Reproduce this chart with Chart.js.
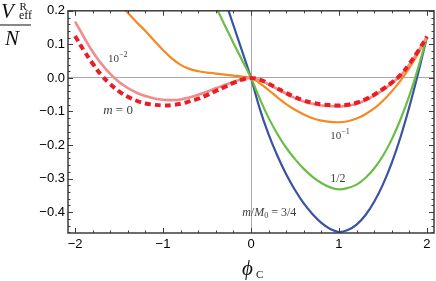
<!DOCTYPE html>
<html>
<head>
<meta charset="utf-8">
<script src="https://cdn.jsdelivr.net/npm/chart.js@4.4.1/dist/chart.umd.min.js"></script>
<style>
html, body { margin: 0; padding: 0; background: #fff; }
#wrap { width: 436px; height: 281px; position: relative; }
</style>
</head>
<body>
<div id="wrap"><canvas id="potChart"></canvas></div>
<script>
// values, V_eff^R / N against phi_c
const phiFull = [-2.0, -1.9, -1.8, -1.7, -1.6, -1.5, -1.4, -1.3, -1.2, -1.1, -1.0, -0.9, -0.8, -0.7, -0.6, -0.5, -0.4, -0.3, -0.2, -0.1,
  0, 0.1, 0.2, 0.3, 0.4, 0.5, 0.6, 0.7, 0.8, 0.9, 1.0, 1.1, 1.2, 1.3, 1.4, 1.5, 1.6, 1.7, 1.8, 1.9, 2.0];

// m = 0 (dashed)
const vM0 = [0.125, 0.082, 0.043, 0.008, -0.018, -0.040, -0.056, -0.068, -0.076, -0.080, -0.082, -0.081, -0.077, -0.070, -0.062, -0.051, -0.039, -0.027, -0.015, -0.005,
  0, -0.005, -0.017, -0.031, -0.045, -0.057, -0.067, -0.074, -0.079, -0.081, -0.082, -0.080, -0.074, -0.064, -0.050, -0.033, -0.014, 0.009, 0.042, 0.080, 0.123];

// m = 10^-2
const vM2 = [0.168, 0.122, 0.078, 0.042, 0.012, -0.012, -0.030, -0.044, -0.054, -0.061, -0.065, -0.066, -0.064, -0.058, -0.050, -0.041, -0.031, -0.021, -0.012, -0.004,
  0, -0.006, -0.019, -0.033, -0.047, -0.060, -0.070, -0.077, -0.082, -0.084, -0.085, -0.083, -0.077, -0.067, -0.053, -0.036, -0.016, 0.007, 0.040, 0.079, 0.123];

// m = 10^-1
const phiM1 = [-1.6, -1.5, -1.4, -1.3, -1.2, -1.1, -1.0, -0.9, -0.8, -0.7, -0.6, -0.5, -0.4, -0.3, -0.2, -0.1,
  0, 0.1, 0.2, 0.3, 0.4, 0.5, 0.6, 0.7, 0.8, 0.9, 1.0, 1.1, 1.2, 1.3, 1.4, 1.5, 1.6, 1.7, 1.8, 1.9, 2.0];
const vM1 = [0.258, 0.226, 0.194, 0.166, 0.140, 0.111, 0.083, 0.058, 0.039, 0.027, 0.020, 0.016, 0.013, 0.010, 0.007, 0.004,
  0, -0.016, -0.036, -0.058, -0.078, -0.095, -0.109, -0.120, -0.127, -0.131, -0.132, -0.129, -0.121, -0.108, -0.091, -0.068, -0.040, -0.008, 0.030, 0.073, 0.123];

// m = 1/2
const phiHalf = [-0.5, -0.4, -0.3, -0.2, -0.1, 0, 0.1, 0.2, 0.3, 0.4, 0.5, 0.6, 0.7, 0.8, 0.9, 1.0, 1.1, 1.2, 1.3, 1.4, 1.5, 1.6, 1.7, 1.8, 1.9, 2.0];
const vHalf = [0.265, 0.212, 0.158, 0.104, 0.052, 0, -0.062, -0.119, -0.167, -0.208, -0.242, -0.271, -0.295, -0.313, -0.326, -0.332,
  -0.328, -0.318, -0.298, -0.270, -0.232, -0.183, -0.123, -0.053, 0.030, 0.123];

// m/M0 = 3/4
const phiQ = [-0.4, -0.3, -0.2, -0.1, 0, 0.1, 0.2, 0.3, 0.4, 0.5, 0.6, 0.7, 0.8, 0.9, 1.0, 1.1, 1.2, 1.3, 1.4, 1.5, 1.6, 1.7, 1.8, 1.9, 2.0];
const vQ = [0.31, 0.235, 0.157, 0.079, 0, -0.092, -0.168, -0.232, -0.287, -0.334, -0.374, -0.406, -0.432, -0.450, -0.459,
  -0.453, -0.437, -0.409, -0.369, -0.317, -0.253, -0.176, -0.086, 0.014, 0.123];

const xTicks = [-2, -1, 0, 1, 2];
const yTicks = [-0.4, -0.3, -0.2, -0.1, 0.0, 0.1, 0.2];

const SERIF = '"Liberation Serif", "DejaVu Serif", serif';
const SANS = '"Liberation Sans", Arial, sans-serif';

function pts(xs, ys) {
  return xs.map((x, i) => ({ x: x, y: ys[i] }));
}

function fmt(v, dec) {
  const s = Math.abs(v).toFixed(dec);
  return (v < -1e-9 ? '\u2212' : '') + s;
}

// frame with inward ticks on all four sides
const frameTicks = {
  id: 'frameTicks',
  afterDatasetsDraw(chart) {
    const { ctx, chartArea: a, scales } = chart;
    const sx = scales.x, sy = scales.y;
    ctx.save();
    ctx.strokeStyle = '#3c3c3c';
    ctx.lineWidth = 1;
    ctx.beginPath();
    for (let k = -10; k <= 10; k++) {
      const v = k / 5;
      if (v < sx.min || v > sx.max) continue;
      const px = Math.round(sx.getPixelForValue(v)) + 0.5;
      const len = (k % 5 === 0) ? 5 : 2.5;
      ctx.moveTo(px, a.bottom); ctx.lineTo(px, a.bottom - len);
      ctx.moveTo(px, a.top); ctx.lineTo(px, a.top + len);
    }
    for (let k = -25; k <= 10; k++) {
      const v = k / 50;
      if (v < sy.min || v > sy.max) continue;
      const py = Math.round(sy.getPixelForValue(v)) + 0.5;
      const len = (k % 5 === 0) ? 5 : 2.5;
      ctx.moveTo(a.left, py); ctx.lineTo(a.left + len, py);
      ctx.moveTo(a.right, py); ctx.lineTo(a.right - len, py);
    }
    ctx.stroke();
    ctx.lineWidth = 1.5;
    ctx.strokeRect(a.left, a.top, a.right - a.left, a.bottom - a.top);
    ctx.restore();
  }
};

// curve names and axis titles
const curveNotes = [
  { x: -1.625, y: 0.046, parts: [{ t: '10', f: '11px ' + SERIF }, { t: '\u22122', f: '8px ' + SERIF, dy: -5 }] },
  { x: -1.68, y: -0.107, parts: [{ t: 'm', f: 'italic 13px ' + SERIF }, { t: ' = 0', f: '13px ' + SERIF }] },
  { x: 0.90, y: -0.181, parts: [{ t: '10', f: '11px ' + SERIF }, { t: '\u22121', f: '8px ' + SERIF, dy: -5 }] },
  { x: 0.90, y: -0.309, parts: [{ t: '1/2', f: '12px ' + SERIF }] },
  { x: -0.10, y: -0.412, parts: [{ t: 'm', f: 'italic 12px ' + SERIF }, { t: '/', f: '12px ' + SERIF },
    { t: 'M', f: 'italic 12px ' + SERIF }, { t: '0', f: '8px ' + SERIF, dy: 2 }, { t: ' = 3/4', f: '12px ' + SERIF }] }
];

function drawParts(ctx, x, y, parts) {
  let cx = x;
  parts.forEach(p => {
    ctx.font = p.f;
    ctx.fillText(p.t, cx, y + (p.dy || 0));
    cx += ctx.measureText(p.t).width;
  });
}

const textPlugin = {
  id: 'textPlugin',
  afterDraw(chart) {
    const { ctx, scales } = chart;
    ctx.save();
    ctx.textBaseline = 'alphabetic';
    ctx.textAlign = 'left';
    ctx.fillStyle = '#404040';
    curveNotes.forEach(n => {
      drawParts(ctx, scales.x.getPixelForValue(n.x), scales.y.getPixelForValue(n.y), n.parts);
    });
    // y axis title: V_eff^R / N
    ctx.fillStyle = '#111';
    ctx.font = 'italic 21px ' + SERIF;
    ctx.fillText('V', 1, 18);
    ctx.font = '11px ' + SERIF;
    ctx.fillText('R', 19.5, 10);
    ctx.font = '12px ' + SERIF;
    ctx.fillText('eff', 19, 19);
    ctx.fillRect(0, 24.5, 31, 1);
    ctx.font = 'italic 21px ' + SERIF;
    ctx.fillText('N', 5, 45);
    // x axis title: phi_C
    ctx.font = 'italic 21px ' + SERIF;
    ctx.fillText('\u03d5', 242, 275);
    ctx.font = '11px ' + SERIF;
    ctx.fillText('C', 256, 278);
    ctx.restore();
  }
};

const lineBase = { pointRadius: 0, fill: false, tension: 0.4, clip: 0 };

new Chart(document.getElementById('potChart'), {
  type: 'line',
  data: {
    datasets: [
      Object.assign({ label: 'm = 0', data: pts(phiFull, vM0), borderColor: '#ec1c24', borderWidth: 4, borderDash: [6, 4], order: 0 }, lineBase),
      Object.assign({ label: '10^-2', data: pts(phiFull, vM2), borderColor: '#f28b8b', borderWidth: 2.6, order: 1 }, lineBase),
      Object.assign({ label: '10^-1', data: pts(phiM1, vM1), borderColor: '#f6891f', borderWidth: 2.2, order: 2 }, lineBase),
      Object.assign({ label: '1/2', data: pts(phiHalf, vHalf), borderColor: '#6abd45', borderWidth: 2.2, order: 3 }, lineBase),
      Object.assign({ label: '3/4', data: pts(phiQ, vQ), borderColor: '#3a52a3', borderWidth: 2.2, order: 4 }, lineBase)
    ]
  },
  options: {
    responsive: true,
    maintainAspectRatio: false,
    animation: false,
    layout: { padding: { left: 0, right: 2, top: 9, bottom: 0 } },
    plugins: { legend: { display: false }, tooltip: { enabled: false } },
    scales: {
      x: {
        type: 'linear',
        min: -2.08,
        max: 2.08,
        afterBuildTicks: s => { s.ticks = xTicks.map(v => ({ value: v })); },
        afterFit: s => { s.height = 48; },
        ticks: { color: '#000', font: { family: SANS, size: 13 }, padding: 4, maxRotation: 0, callback: v => fmt(v, 0) },
        grid: { drawTicks: false, lineWidth: 1, color: c => (c.tick && c.tick.value === 0) ? '#a8a8a8' : 'rgba(0,0,0,0)' },
        border: { display: false }
      },
      y: {
        min: -0.462,
        max: 0.2,
        afterBuildTicks: s => { s.ticks = yTicks.map(v => ({ value: v })); },
        afterFit: s => { s.width = 68; },
        ticks: { color: '#000', font: { family: SANS, size: 13 }, padding: 3, callback: v => fmt(v, 1) },
        grid: { drawTicks: false, lineWidth: 1, color: c => (c.tick && Math.abs(c.tick.value) < 1e-9) ? '#a8a8a8' : 'rgba(0,0,0,0)' },
        border: { display: false }
      }
    }
  },
  plugins: [frameTicks, textPlugin]
});
</script>
</body>
</html>
